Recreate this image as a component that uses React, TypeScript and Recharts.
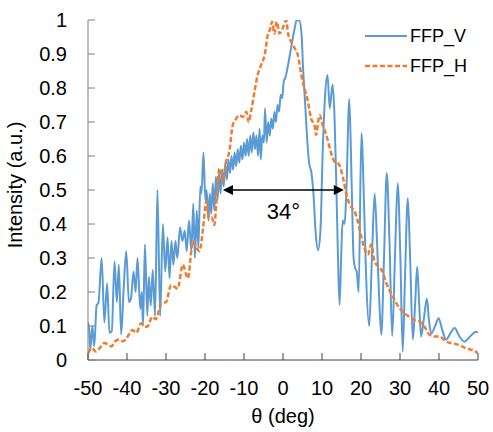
import { LineChart, Line, XAxis, YAxis, Legend, ReferenceLine, Label } from 'recharts'

// Far-field pattern, vertical and horizontal cuts
const thetaTicks = [-50, -40, -30, -20, -10, 0, 10, 20, 30, 40, 50]
const intensityTicks = [0, 0.1, 0.2, 0.3, 0.4, 0.5, 0.6, 0.7, 0.8, 0.9, 1]

const vTheta = [
  -50, -49.7, -49.4, -48.9, -48.4, -47.8, -47.3, -46.5, -45.8, -45.1, -44.5, -43.9, -43.2, -42.6, -42.1, -41.5,
  -40.9, -40.2, -39.5, -39.0, -38.3, -37.8, -37.3, -36.6, -36.2, -35.9, -35.4, -34.8, -34.4, -33.9, -33.4, -32.8,
  -32.2, -31.5, -30.8, -30.2, -29.6, -29.1, -28.6, -28.1, -27.6, -27.1, -26.4, -25.8, -25.2, -24.7, -24.1, -23.5,
  -23.0, -22.6, -22.1, -21.7, -21.2, -20.9, -20.4, -19.9, -19.6, -19.1, -18.8, -18.4, -18.0, -17.6, -17.2, -16.8,
  -16.4, -16.0, -15.6, -15.2, -14.8, -14.4, -14.0, -13.6, -13.2, -12.8, -12.4, -12.0, -11.6, -11.2, -10.8, -10.4,
  -10.0, -9.6, -9.2, -8.8, -8.4, -8.0, -7.6, -7.2, -6.8, -6.4, -6.0, -5.7, -5.3, -4.9, -4.6, -4.2,
  -3.8, -3.4, -3.0, -2.6, -2.2, -1.8, -1.4, -1.0, -0.6, -0.2, 0.2, 0.6, 1.0, 1.5, 2.1, 2.9,
  3.5, 4.2, 4.8, 5.1, 5.7, 6.2, 6.7, 7.3, 7.8, 8.4, 9.0, 9.6, 10.2, 10.8, 11.4, 12.0,
  12.7, 13.2, 13.7, 14.1, 14.5, 14.9, 15.3, 15.8, 16.2, 17.0, 17.6, 18.1, 18.5, 18.9, 19.4, 20.1,
  20.8, 21.3, 22.1, 22.8, 23.5, 24.1, 24.6, 25.2, 25.9, 26.6, 27.3, 28.0, 28.7, 29.4, 30.1, 30.7,
  31.3, 32.0, 32.6, 33.3, 33.9, 34.4, 34.9, 35.4, 36.1, 36.9, 37.4, 38.0, 39.0, 39.9, 40.8, 41.8,
  43.0, 44.0, 45.2, 46.5, 48.0, 49.5, 50
]
const vIntensity = [
  0.11, 0.09, 0.03, 0.1, 0.04, 0.16, 0.17, 0.3, 0.11, 0.225, 0.08, 0.085, 0.29, 0.17, 0.28, 0.075,
  0.2, 0.32, 0.17, 0.18, 0.26, 0.2, 0.3, 0.15, 0.2, 0.1, 0.34, 0.13, 0.245, 0.16, 0.265, 0.13,
  0.5, 0.13, 0.4, 0.26, 0.36, 0.24, 0.35, 0.28, 0.35, 0.3, 0.39, 0.35, 0.38, 0.32, 0.41, 0.32,
  0.46, 0.3, 0.44, 0.33, 0.51, 0.49, 0.61, 0.47, 0.5, 0.41, 0.49, 0.43, 0.52, 0.44, 0.54, 0.47,
  0.55, 0.49, 0.56, 0.51, 0.58, 0.53, 0.59, 0.55, 0.6, 0.56, 0.61, 0.57, 0.62, 0.58, 0.63, 0.59,
  0.64, 0.6, 0.65, 0.6, 0.66, 0.61, 0.67, 0.62, 0.66, 0.6, 0.68, 0.59, 0.66, 0.64, 0.74, 0.64,
  0.7, 0.66, 0.71, 0.68, 0.73, 0.7, 0.75, 0.73, 0.78, 0.77, 0.82, 0.83, 0.85, 0.88, 0.92, 0.97,
  1.0, 0.998, 0.95, 0.87, 0.75, 0.65, 0.58, 0.55, 0.49, 0.37, 0.323, 0.38, 0.62, 0.78, 0.838, 0.74,
  0.81, 0.72, 0.5, 0.3, 0.162, 0.3, 0.41, 0.4, 0.48, 0.767, 0.52, 0.3, 0.27, 0.26, 0.2, 0.667,
  0.45, 0.25, 0.1, 0.3, 0.49, 0.35, 0.2, 0.074, 0.3, 0.55, 0.35, 0.07, 0.3, 0.52, 0.3, 0.025,
  0.25, 0.476, 0.3, 0.06, 0.17, 0.274, 0.17, 0.069, 0.12, 0.18, 0.12, 0.078, 0.1, 0.123, 0.09, 0.06,
  0.08, 0.094, 0.07, 0.054, 0.07, 0.083, 0.08
]

const hTheta = [
  -50, -49, -48, -47, -45.8, -44.8, -44, -43, -42, -41, -39.9, -38.6, -37.6, -36.4, -35.5, -34.8,
  -33.5, -32.6, -31.2, -30, -28.7, -27.8, -27, -25.7, -24.4, -23.1, -22.2, -21.4, -20.5, -19.7, -19, -18.3,
  -17.6, -17, -16.3, -15.4, -14.6, -13.8, -12.9, -12, -11.2, -10.3, -9.4, -8.8, -8.2, -7.3, -6.5, -5.6,
  -4.7, -3.9, -3.4, -2.8, -2.2, -1.6, -0.9, -0.1, 0.4, 0.8, 1.3, 2.1, 3, 3.8, 4.7, 5.5,
  6.4, 7.2, 8.1, 8.5, 9, 9.4, 10.2, 11.1, 12.3, 13.2, 14.3, 15.3, 16.2, 17.1, 18.5, 19.2,
  20, 21, 21.8, 22.6, 23.5, 24.5, 25.5, 26.5, 28.2, 29.9, 31.2, 32.4, 33.7, 35, 36.3, 37.6,
  38.8, 40.1, 41.8, 43.5, 45.2, 47, 48.7, 50
]
const hIntensity = [
  0.02, 0.035, 0.025, 0.035, 0.05, 0.045, 0.04, 0.055, 0.06, 0.055, 0.068, 0.088, 0.08, 0.108, 0.1, 0.098,
  0.127, 0.12, 0.167, 0.17, 0.22, 0.215, 0.21, 0.28, 0.24, 0.35, 0.33, 0.32, 0.387, 0.466, 0.416, 0.42,
  0.397, 0.48, 0.564, 0.525, 0.584, 0.61, 0.69, 0.71, 0.72, 0.715, 0.73, 0.7, 0.73, 0.79, 0.838, 0.868,
  0.897, 0.956, 0.97, 0.995, 0.96, 0.995, 0.96, 0.975, 0.99, 1.0, 0.96, 0.936, 0.917, 0.897, 0.838, 0.799,
  0.76, 0.71, 0.69, 0.662, 0.7, 0.72, 0.69, 0.662, 0.61, 0.583, 0.576, 0.54, 0.49, 0.458, 0.433, 0.407,
  0.365, 0.325, 0.31, 0.34, 0.289, 0.275, 0.26, 0.226, 0.186, 0.152, 0.137, 0.127, 0.118, 0.113, 0.098, 0.074,
  0.069, 0.069, 0.054, 0.049, 0.044, 0.034, 0.029, 0.02
]

const seriesOrder = ['FFP_V', 'FFP_H']

// full width at half maximum annotation
const fwhmStart = -15.4
const fwhmEnd = 15.6
const fwhmLevel = 0.5
const fwhmLabel = '34°'

const FONT = '"Liberation Sans", Arial, sans-serif'
const V_COLOR = '#5B9BD5'
const H_COLOR = '#ED7D31'
const H_DASH = '5 2.5'

const vData = vTheta.map((x, i) => ({ x, y: vIntensity[i] }))
const hData = hTheta.map((x, i) => ({ x, y: hIntensity[i] }))

const XTick = ({ x, y, payload }: any) => (
  <g>
    <line x1={x} y1={y} x2={x} y2={y - 7} stroke="#404040" strokeWidth={1} />
    <text x={x} y={y + 35} textAnchor="middle" fontSize={20} fontFamily={FONT} fill="#000">
      {payload.value}
    </text>
  </g>
)

const YTick = ({ x, y, payload }: any) => (
  <g>
    <line x1={x} y1={y} x2={x + 7} y2={y} stroke="#808080" strokeWidth={1} />
    <text x={x - 21} y={y + 7} textAnchor="end" fontSize={20} fontFamily={FONT} fill="#000">
      {payload.value}
    </text>
  </g>
)

const FwhmArrow = (props: any) => {
  const { x1, y1, x2 } = props
  const head = 10
  const half = 5
  return (
    <g>
      <line x1={x1 + head} y1={y1} x2={x2 - head} y2={y1} stroke="#000" strokeWidth={1.5} />
      <polygon points={`${x1},${y1} ${x1 + head},${y1 - half} ${x1 + head},${y1 + half}`} fill="#000" />
      <polygon points={`${x2},${y1} ${x2 - head},${y1 - half} ${x2 - head},${y1 + half}`} fill="#000" />
      <text x={(x1 + x2) / 2} y={y1 + 29} textAnchor="middle" fontSize={22} fontFamily={FONT} fill="#000">
        {fwhmLabel}
      </text>
    </g>
  )
}

const renderLegend = (props: any) => {
  const items = [...props.payload].sort(
    (a: any, b: any) => seriesOrder.indexOf(a.value) - seriesOrder.indexOf(b.value)
  )
  return (
    <div style={{ fontFamily: FONT }}>
      {items.map((entry: any) => (
        <div key={entry.value} style={{ display: 'flex', alignItems: 'center', height: 30 }}>
          <svg width={42} height={10}>
            <line
              x1={0}
              y1={5}
              x2={42}
              y2={5}
              stroke={entry.value === 'FFP_H' ? H_COLOR : V_COLOR}
              strokeWidth={entry.value === 'FFP_H' ? 2.5 : 2}
              strokeDasharray={entry.value === 'FFP_H' ? H_DASH : undefined}
            />
          </svg>
          <span style={{ marginLeft: 3, fontSize: 18, color: '#000' }}>{entry.value}</span>
        </div>
      ))}
    </div>
  )
}

export default function App() {
  return (
    <div style={{ position: 'absolute', left: 0, top: 0, width: 493, height: 432, background: '#fff' }}>
      <LineChart width={493} height={432} margin={{ top: 20, right: 15, bottom: 0, left: 0 }}>
        <XAxis
          type="number"
          dataKey="x"
          domain={[-50, 50]}
          ticks={thetaTicks}
          allowDataOverflow
          height={72}
          tickSize={0}
          tickMargin={0}
          tickLine={false}
          axisLine={{ stroke: '#404040', strokeWidth: 1 }}
          tick={<XTick />}
        >
          <Label
            content={({ viewBox }: any) => (
              <text
                x={viewBox.x + viewBox.width / 2}
                y={viewBox.y + 63}
                textAnchor="middle"
                fontSize={20}
                fontFamily={FONT}
                fill="#000"
              >
                θ (deg)
              </text>
            )}
          />
        </XAxis>
        <YAxis
          type="number"
          domain={[0, 1]}
          ticks={intensityTicks}
          allowDataOverflow
          width={88}
          tickSize={0}
          tickMargin={0}
          tickLine={false}
          axisLine={{ stroke: '#808080', strokeWidth: 1 }}
          tick={<YTick />}
        >
          <Label
            content={({ viewBox }: any) => {
              const cx = 22
              const cy = viewBox.y + viewBox.height / 2 - 5
              return (
                <text
                  x={cx}
                  y={cy}
                  transform={`rotate(-90, ${cx}, ${cy})`}
                  textAnchor="middle"
                  fontSize={20}
                  fontFamily={FONT}
                  fill="#000"
                >
                  Intensity (a.u.)
                </text>
              )
            }}
          />
        </YAxis>
        <Legend
          layout="vertical"
          align="center"
          verticalAlign="middle"
          content={renderLegend}
          wrapperStyle={{ top: 21, left: 365, width: 120 }}
        />
        <Line
          name="FFP_V"
          data={vData}
          dataKey="y"
          type="monotone"
          stroke={V_COLOR}
          strokeWidth={2}
          dot={false}
          activeDot={false}
          isAnimationActive={false}
        />
        <Line
          name="FFP_H"
          data={hData}
          dataKey="y"
          type="monotone"
          stroke={H_COLOR}
          strokeWidth={2.5}
          strokeDasharray={H_DASH}
          dot={false}
          activeDot={false}
          isAnimationActive={false}
        />
        <ReferenceLine
          segment={[
            { x: fwhmStart, y: fwhmLevel },
            { x: fwhmEnd, y: fwhmLevel }
          ]}
          shape={<FwhmArrow />}
        />
      </LineChart>
    </div>
  )
}
